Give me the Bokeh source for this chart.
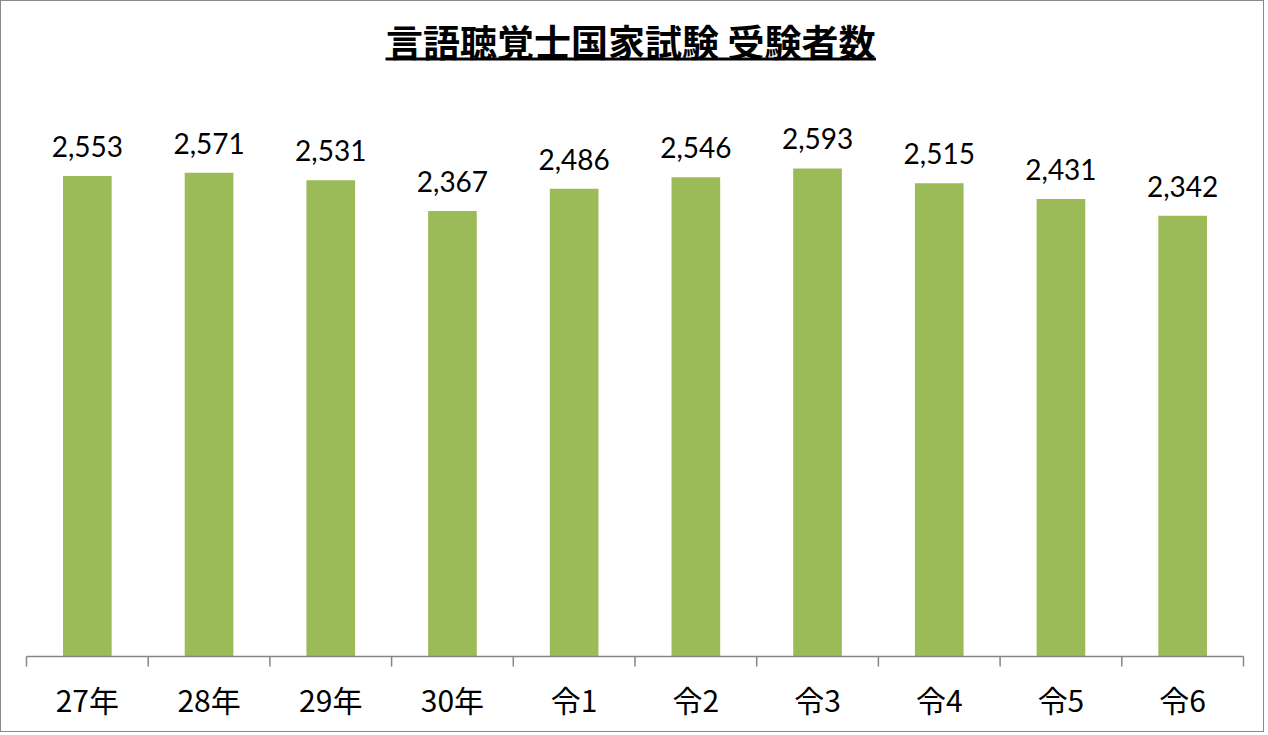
from bokeh.plotting import figure
from bokeh.models import ColumnDataSource, LabelSet, Label, Range1d
from bokeh.embed import file_html
from bokeh.resources import INLINE
from bokeh.core.properties import value

categories = ["27年", "28年", "29年", "30年", "令1", "令2", "令3", "令4", "令5", "令6"]
counts = [2553, 2571, 2531, 2367, 2486, 2546, 2593, 2515, 2431, 2342]
count_labels = [f"{v:,}" for v in counts]
title_text = "言語聴覚士国家試験 受験者数"

# canvas / layout (pixels)
W, H = 1264, 732
n = len(categories)
px_per_cat = 121.7          # horizontal pixels per category
px_per_unit = 0.1882        # vertical pixels per person
axis_left_px, axis_base_px = 25, 655
x_start = -axis_left_px / px_per_cat
x_end = (W - axis_left_px) / px_per_cat
y_start = -(H - axis_base_px) / px_per_unit
y_end = axis_base_px / px_per_unit
tick_len = 10 / px_per_unit

title_x = n / 2 - 0.035
title_y = (axis_base_px - 39) / px_per_unit
underline_y = (axis_base_px - 57.5) / px_per_unit
underline_half = 2.015

x_pos = [i + 0.5 for i in range(n)]
bounds = list(range(n + 1))
src = ColumnDataSource(dict(x=x_pos, top=counts, label=count_labels, cat=categories))

p = figure(width=W, height=H, output_backend="svg", toolbar_location=None,
           x_range=Range1d(x_start, x_end), y_range=Range1d(y_start, y_end),
           x_axis_location=None, y_axis_location=None,
           min_border_left=0, min_border_right=0, min_border_top=0, min_border_bottom=0)
p.outline_line_color = None
p.xgrid.visible = False
p.ygrid.visible = False
p.styles = {"border": "1px solid #8a8a8a"}

p.vbar(x="x", top="top", width=0.4, source=src, fill_color="#9BBB59", line_color=None)

# category axis: base line, boundary ticks, category labels
axis_color = "#868686"
p.segment(x0=[0], y0=[0], x1=[n], y1=[0], line_color=axis_color, line_width=1.5)
p.segment(x0=bounds, y0=[0] * (n + 1), x1=bounds, y1=[-tick_len] * (n + 1),
          line_color=axis_color, line_width=1.5)
p.text(x="x", y=0, text="cat", source=src, y_offset=42,
       text_align="center", text_baseline="middle",
       text_font=value("Noto Sans CJK JP"), text_font_size="30px", text_color="black")

labels = LabelSet(x="x", y="top", text="label", source=src, y_offset=19,
                  text_align="center", text_baseline="alphabetic",
                  text_font=value("Lato"), text_font_size="28px", text_color="black")
p.add_layout(labels)

title = Label(x=title_x, y=title_y, text=title_text, text_align="center", text_baseline="middle",
              text_font="Noto Sans CJK JP", text_font_size="37px", text_font_style="bold",
              text_color="black")
p.add_layout(title)
p.segment(x0=[title_x - underline_half], y0=[underline_y], x1=[title_x + underline_half], y1=[underline_y],
          line_color="black", line_width=3)

open("out.html", "w").write(file_html(p, INLINE))
